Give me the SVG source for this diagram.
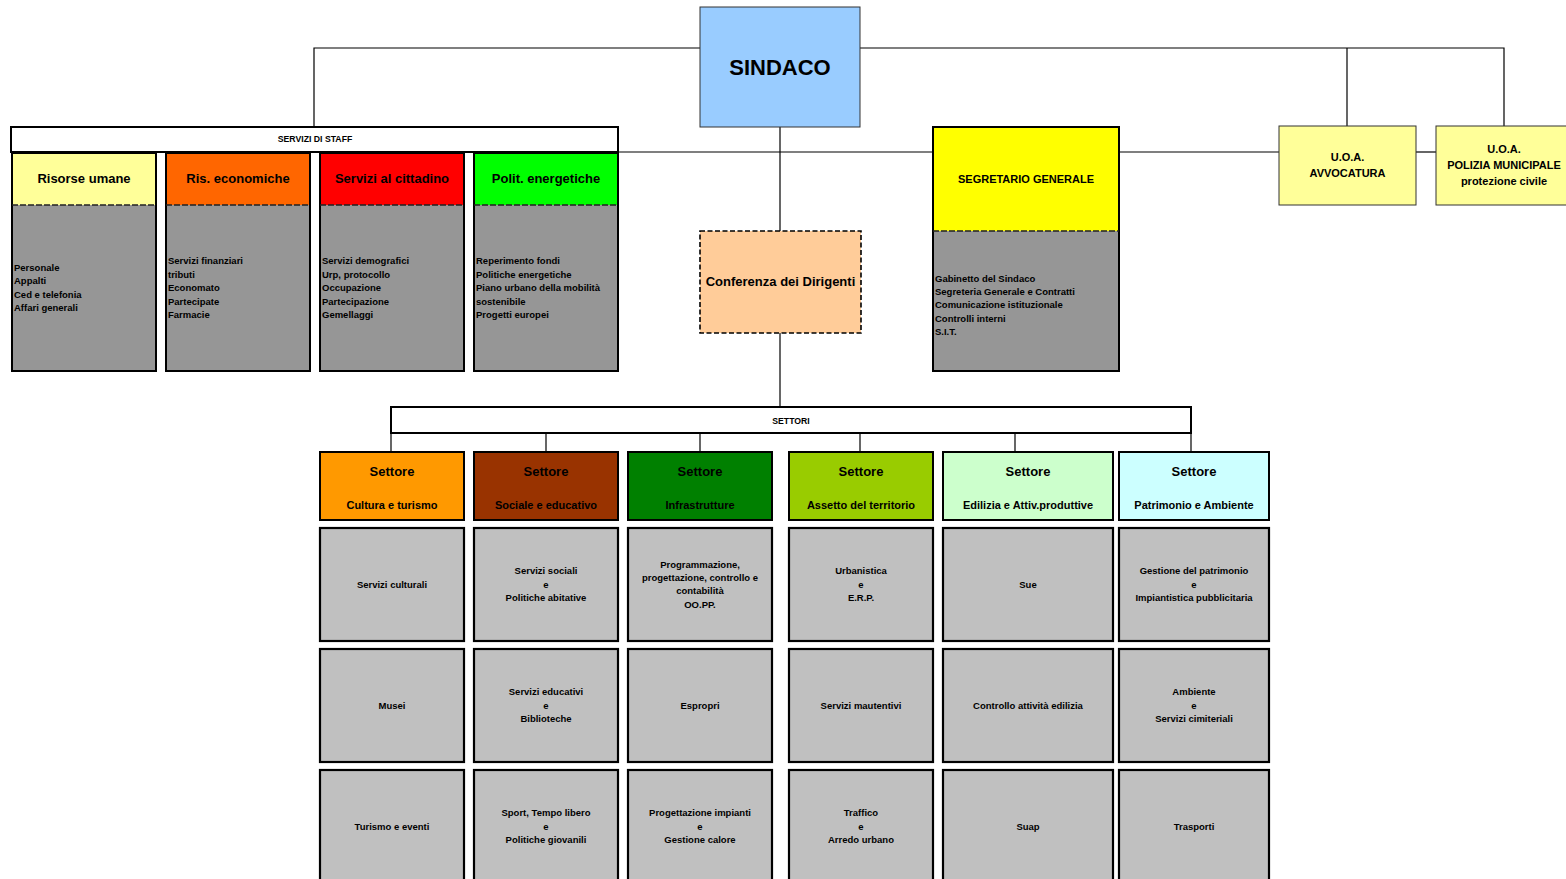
<svg xmlns="http://www.w3.org/2000/svg" width="1566" height="879" viewBox="0 0 1566 879">
<style>
text{font-family:"Liberation Sans",Arial,sans-serif;font-weight:bold;fill:#000;dominant-baseline:central}
.c{text-anchor:middle}
.box{stroke:#000;stroke-width:2}
.thin{stroke:#333;stroke-width:1}
.body{fill:#969696}
.cell{fill:#C0C0C0;stroke:#000;stroke-width:2.2}
.dash{stroke:#222;stroke-width:1.5;stroke-dasharray:6 2;fill:none}
.hd{font-size:13px}
.sm{font-size:9.5px}
.md{font-size:11px}
.ln{stroke:#000;stroke-width:1.2;fill:none}
</style>
<g id="connectors">
<polyline class="ln" points="700,48 314,48 314,127"/>
<polyline class="ln" points="860,48 1504,48 1504,126"/>
<line class="ln" x1="1347" y1="48" x2="1347" y2="126"/>
<line class="ln" x1="780" y1="127" x2="780" y2="231"/>
<line class="ln" x1="780" y1="333" x2="780" y2="407"/>
<line class="ln" x1="618" y1="152" x2="933" y2="152"/>
<line class="ln" x1="1119" y1="152" x2="1279" y2="152"/>
<line class="ln" x1="1416" y1="152" x2="1436" y2="152"/>
<line class="ln" x1="391" y1="433" x2="391" y2="452"/>
<line class="ln" x1="546" y1="433" x2="546" y2="452"/>
<line class="ln" x1="700" y1="433" x2="700" y2="452"/>
<line class="ln" x1="860" y1="433" x2="860" y2="452"/>
<line class="ln" x1="1015" y1="433" x2="1015" y2="452"/>
<line class="ln" x1="1191" y1="433" x2="1191" y2="452"/>
</g>
<g id="sindaco">
<rect x="700" y="7" width="160" height="120" fill="#99CCFF" class="thin"/>
<text x="780" y="67" class="c" font-size="22">SINDACO</text>
</g>
<g id="staff">
<rect x="11" y="127" width="607" height="25" fill="#fff" class="box"/>
<text x="315" y="139" class="c" font-size="8.7">SERVIZI DI STAFF</text>
</g>
<g id="risorse-umane">
<rect x="12" y="153" width="144" height="52" fill="#FFFF99"/>
<rect x="12" y="205" width="144" height="166" class="body"/>
<rect x="12" y="153" width="144" height="218" fill="none" class="box"/>
<line x1="12" y1="205" x2="156" y2="205" class="dash"/>
<text x="84" y="178" class="c hd">Risorse umane</text>
<text x="14" y="267" class="sm">Personale</text>
<text x="14" y="280.5" class="sm">Appalti</text>
<text x="14" y="294" class="sm">Ced e telefonia</text>
<text x="14" y="307.5" class="sm">Affari generali</text>
</g>
<g id="ris-economiche">
<rect x="166" y="153" width="144" height="52" fill="#FF6600"/>
<rect x="166" y="205" width="144" height="166" class="body"/>
<rect x="166" y="153" width="144" height="218" fill="none" class="box"/>
<line x1="166" y1="205" x2="310" y2="205" class="dash"/>
<text x="238" y="178" class="c hd">Ris. economiche</text>
<text x="168" y="260.5" class="sm">Servizi finanziari</text>
<text x="168" y="274" class="sm">tributi</text>
<text x="168" y="287.5" class="sm">Economato</text>
<text x="168" y="301" class="sm">Partecipate</text>
<text x="168" y="314.5" class="sm">Farmacie</text>
</g>
<g id="servizi-cittadino">
<rect x="320" y="153" width="144" height="52" fill="#FF0000"/>
<rect x="320" y="205" width="144" height="166" class="body"/>
<rect x="320" y="153" width="144" height="218" fill="none" class="box"/>
<line x1="320" y1="205" x2="464" y2="205" class="dash"/>
<text x="392" y="178" class="c hd">Servizi al cittadino</text>
<text x="322" y="260.5" class="sm">Servizi demografici</text>
<text x="322" y="274" class="sm">Urp, protocollo</text>
<text x="322" y="287.5" class="sm">Occupazione</text>
<text x="322" y="301" class="sm">Partecipazione</text>
<text x="322" y="314.5" class="sm">Gemellaggi</text>
</g>
<g id="polit-energetiche">
<rect x="474" y="153" width="144" height="52" fill="#00FF00"/>
<rect x="474" y="205" width="144" height="166" class="body"/>
<rect x="474" y="153" width="144" height="218" fill="none" class="box"/>
<line x1="474" y1="205" x2="618" y2="205" class="dash"/>
<text x="546" y="178" class="c hd">Polit. energetiche</text>
<text x="476" y="260.5" class="sm">Reperimento fondi</text>
<text x="476" y="274" class="sm">Politiche energetiche</text>
<text x="476" y="287.5" class="sm">Piano urbano della mobilità</text>
<text x="476" y="301" class="sm">sostenibile</text>
<text x="476" y="314.5" class="sm">Progetti europei</text>
</g>
<g id="conferenza">
<rect x="700" y="231" width="161" height="102" fill="#FFCC99" stroke="#000" stroke-width="1.6" stroke-dasharray="5 2.5"/>
<text x="780.5" y="281" class="c hd">Conferenza dei Dirigenti</text>
</g>
<g id="segretario">
<rect x="933" y="127" width="186" height="104" fill="#FFFF00"/>
<rect x="933" y="231" width="186" height="140" class="body"/>
<rect x="933" y="127" width="186" height="244" fill="none" class="box"/>
<line x1="933" y1="231" x2="1119" y2="231" class="dash"/>
<text x="1026" y="179" class="c md">SEGRETARIO GENERALE</text>
<text x="935" y="278" class="sm">Gabinetto del Sindaco</text>
<text x="935" y="291.5" class="sm">Segreteria Generale e Contratti</text>
<text x="935" y="304.5" class="sm">Comunicazione istituzionale</text>
<text x="935" y="318" class="sm">Controlli interni</text>
<text x="935" y="331" class="sm">S.I.T.</text>
</g>
<g id="avvocatura">
<rect x="1279" y="126" width="137" height="79" fill="#FFFF99" class="thin"/>
<text x="1347.5" y="157" class="c md">U.O.A.</text>
<text x="1347.5" y="173" class="c md">AVVOCATURA</text>
</g>
<g id="polizia">
<rect x="1436" y="126" width="140" height="79" fill="#FFFF99" class="thin"/>
<text x="1504" y="149" class="c md">U.O.A.</text>
<text x="1504" y="165" class="c md">POLIZIA MUNICIPALE</text>
<text x="1504" y="181" class="c md">protezione civile</text>
</g>
<g id="settori">
<rect x="391" y="407" width="800" height="26" fill="#fff" class="box"/>
<text x="791" y="421" class="c" font-size="8.7">SETTORI</text>
</g>
<g id="settore-cultura">
<rect x="320" y="452" width="144" height="68" fill="#FF9900" class="box"/>
<text x="392" y="471" class="c hd">Settore</text>
<text x="392" y="504.5" class="c md">Cultura e turismo</text>
</g>
<g id="settore-sociale">
<rect x="474" y="452" width="144" height="68" fill="#993300" class="box"/>
<text x="546" y="471" class="c hd">Settore</text>
<text x="546" y="504.5" class="c md">Sociale e educativo</text>
</g>
<g id="settore-infrastrutture">
<rect x="628" y="452" width="144" height="68" fill="#008000" class="box"/>
<text x="700" y="471" class="c hd">Settore</text>
<text x="700" y="504.5" class="c md">Infrastrutture</text>
</g>
<g id="settore-territorio">
<rect x="789" y="452" width="144" height="68" fill="#99CC00" class="box"/>
<text x="861" y="471" class="c hd">Settore</text>
<text x="861" y="504.5" class="c md">Assetto del territorio</text>
</g>
<g id="settore-edilizia">
<rect x="943" y="452" width="170" height="68" fill="#CCFFCC" class="box"/>
<text x="1028" y="471" class="c hd">Settore</text>
<text x="1028" y="504.5" class="c md">Edilizia e Attiv.produttive</text>
</g>
<g id="settore-patrimonio">
<rect x="1119" y="452" width="150" height="68" fill="#CCFFFF" class="box"/>
<text x="1194" y="471" class="c hd">Settore</text>
<text x="1194" y="504.5" class="c md">Patrimonio e Ambiente</text>
</g>
<g id="r1c1"><rect x="320" y="528" width="144" height="113" class="cell"/><text x="392" y="584" class="c sm">Servizi culturali</text></g>
<g id="r1c2"><rect x="474" y="528" width="144" height="113" class="cell"/><text x="546" y="570.5" class="c sm">Servizi sociali</text><text x="546" y="584" class="c sm">e</text><text x="546" y="597.5" class="c sm">Politiche abitative</text></g>
<g id="r1c3"><rect x="628" y="528" width="144" height="113" class="cell"/><text x="700" y="564" class="c sm">Programmazione,</text><text x="700" y="577.5" class="c sm">progettazione, controllo e</text><text x="700" y="590.5" class="c sm">contabilità</text><text x="700" y="604" class="c sm">OO.PP.</text></g>
<g id="r1c4"><rect x="789" y="528" width="144" height="113" class="cell"/><text x="861" y="570.5" class="c sm">Urbanistica</text><text x="861" y="584" class="c sm">e</text><text x="861" y="597.5" class="c sm">E.R.P.</text></g>
<g id="r1c5"><rect x="943" y="528" width="170" height="113" class="cell"/><text x="1028" y="584" class="c sm">Sue</text></g>
<g id="r1c6"><rect x="1119" y="528" width="150" height="113" class="cell"/><text x="1194" y="570.5" class="c sm">Gestione del patrimonio</text><text x="1194" y="584" class="c sm">e</text><text x="1194" y="597.5" class="c sm">Impiantistica pubblicitaria</text></g>
<g id="r2c1"><rect x="320" y="649" width="144" height="113" class="cell"/><text x="392" y="705" class="c sm">Musei</text></g>
<g id="r2c2"><rect x="474" y="649" width="144" height="113" class="cell"/><text x="546" y="691.5" class="c sm">Servizi educativi</text><text x="546" y="705" class="c sm">e</text><text x="546" y="718.5" class="c sm">Biblioteche</text></g>
<g id="r2c3"><rect x="628" y="649" width="144" height="113" class="cell"/><text x="700" y="705" class="c sm">Espropri</text></g>
<g id="r2c4"><rect x="789" y="649" width="144" height="113" class="cell"/><text x="861" y="705" class="c sm">Servizi mautentivi</text></g>
<g id="r2c5"><rect x="943" y="649" width="170" height="113" class="cell"/><text x="1028" y="705" class="c sm">Controllo attività edilizia</text></g>
<g id="r2c6"><rect x="1119" y="649" width="150" height="113" class="cell"/><text x="1194" y="691.5" class="c sm">Ambiente</text><text x="1194" y="705" class="c sm">e</text><text x="1194" y="718.5" class="c sm">Servizi cimiteriali</text></g>
<g id="r3c1"><rect x="320" y="770" width="144" height="120" class="cell"/><text x="392" y="826" class="c sm">Turismo e eventi</text></g>
<g id="r3c2"><rect x="474" y="770" width="144" height="120" class="cell"/><text x="546" y="812.5" class="c sm">Sport, Tempo libero</text><text x="546" y="826" class="c sm">e</text><text x="546" y="839.5" class="c sm">Politiche giovanili</text></g>
<g id="r3c3"><rect x="628" y="770" width="144" height="120" class="cell"/><text x="700" y="812.5" class="c sm">Progettazione impianti</text><text x="700" y="826" class="c sm">e</text><text x="700" y="839.5" class="c sm">Gestione calore</text></g>
<g id="r3c4"><rect x="789" y="770" width="144" height="120" class="cell"/><text x="861" y="812.5" class="c sm">Traffico</text><text x="861" y="826" class="c sm">e</text><text x="861" y="839.5" class="c sm">Arredo urbano</text></g>
<g id="r3c5"><rect x="943" y="770" width="170" height="120" class="cell"/><text x="1028" y="826" class="c sm">Suap</text></g>
<g id="r3c6"><rect x="1119" y="770" width="150" height="120" class="cell"/><text x="1194" y="826" class="c sm">Trasporti</text></g>
</svg>
